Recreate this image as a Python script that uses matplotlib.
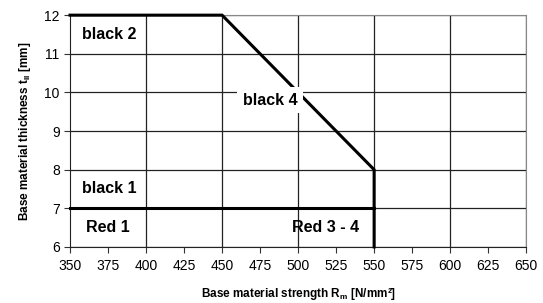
import matplotlib
matplotlib.use("Agg")
import matplotlib.pyplot as plt

plt.rcParams['font.family'] = ['Liberation Sans', 'DejaVu Sans']

# boundary polyline (upper zone limit) and lower red limit
upper_x = [350, 450, 550, 550]
upper_y = [12, 12, 8, 6]
lower_x = [350, 550]
lower_y = [7, 7]

zone_labels = ["black 2", "black 1", "Red 1", "Red 3 - 4", "black 4"]
zone_x = [358, 358, 375, 518, 481.5]
zone_y = [11.5, 7.5, 6.5, 6.5, 9.8]

x_ticks = list(range(350, 651, 25))
x_grid = list(range(400, 651, 50))
y_ticks = list(range(6, 13))

fig = plt.figure(figsize=(5.43, 3.03), dpi=100)
ax = fig.add_axes([0.129, 0.185, 0.840, 0.765])
ax.set_xlim(350, 650)
ax.set_ylim(6, 12)
ax.xaxis.remove_overlapping_locs = False
ax.set_xticks(x_ticks)
ax.set_xticks(x_grid, minor=True)
ax.set_yticks(y_ticks)
ax.grid(True, axis='y', which='major', color='#222222', lw=0.9)
ax.grid(True, axis='x', which='minor', color='#222222', lw=0.9)
ax.tick_params(axis='both', which='major', labelsize=10, length=4, direction='out', color='#333333')
ax.tick_params(axis='x', which='major', pad=5)
ax.tick_params(axis='x', which='minor', length=0)
for s in ['top', 'right']:
    ax.spines[s].set_color('#888888')
for s in ['left', 'bottom']:
    ax.spines[s].set_color('#222222')

ax.plot(upper_x, upper_y, color='black', lw=2.2, solid_joinstyle='miter', zorder=3, clip_on=False)
ax.plot(lower_x, lower_y, color='black', lw=2.2, zorder=3, clip_on=False)

for t, x, y in zip(zone_labels, zone_x, zone_y):
    ha = 'left' if t in ("black 1", "black 2") else 'center'
    kw = {}
    if t == 'black 4':
        kw['bbox'] = dict(facecolor='white', edgecolor='none', pad=4)
    ax.text(x, y, t, fontsize=11.5, fontweight='bold', ha=ha, va='center', zorder=5, **kw)

ax.set_xlabel('Base material strength R$_\\mathregular{m}$ [N/mm²]', fontsize=8.5, fontweight='bold', labelpad=9)
ax.set_ylabel('Base material thickness t$_\\mathregular{II}$ [mm]', fontsize=8.5, fontweight='bold', labelpad=8)

fig.savefig('out.png', dpi=100)
